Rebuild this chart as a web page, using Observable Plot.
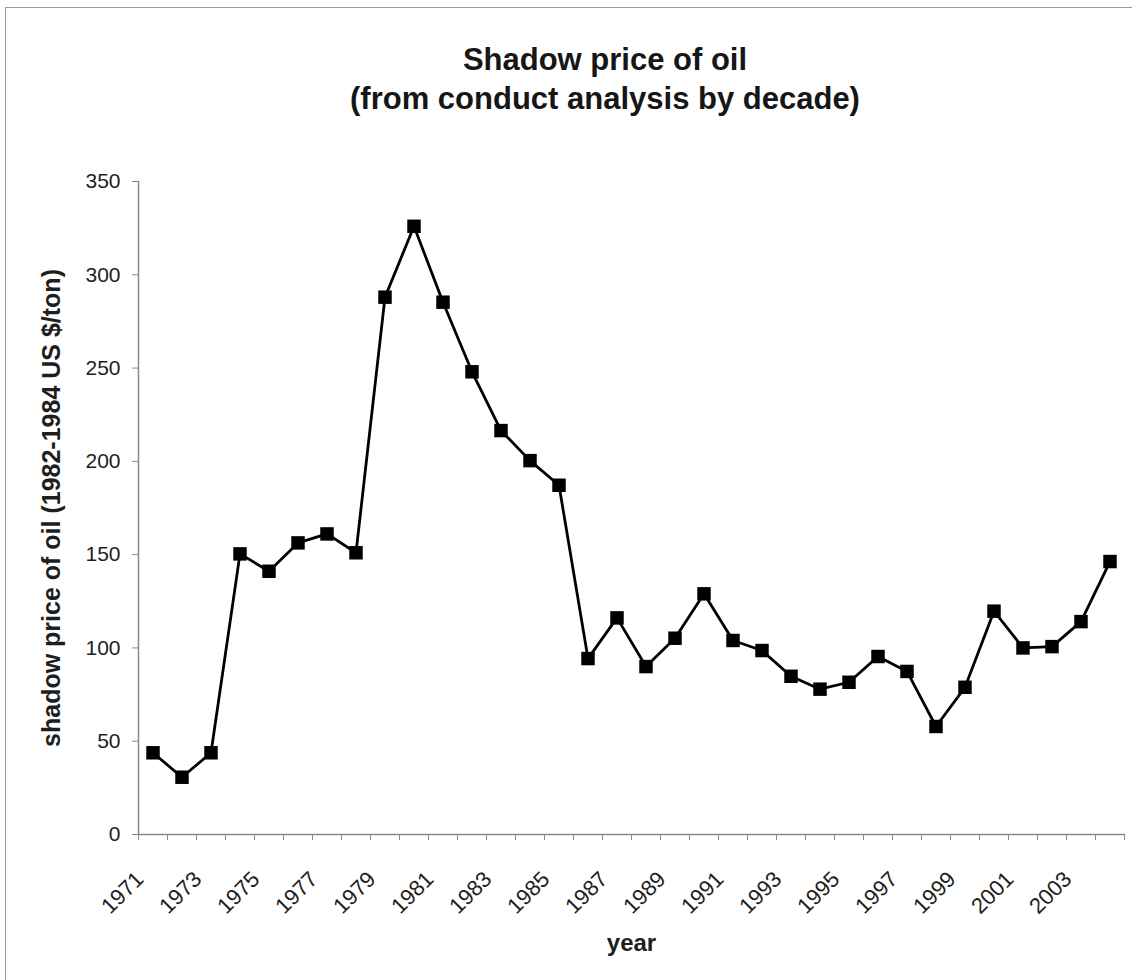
<!DOCTYPE html>
<html>
<head>
<meta charset="utf-8">
<script src="https://cdn.jsdelivr.net/npm/d3@7"></script>
<script src="https://cdn.jsdelivr.net/npm/@observablehq/plot@0.6"></script>
<style>
  body { margin: 0; background: #fff; font-family: "Liberation Sans", Arial, sans-serif; }
  #wrap { position: relative; width: 1132px; height: 980px; overflow: hidden; background: #fff; }
  #border { position: absolute; left: 5px; top: 7px; width: 1150px; height: 1000px; border: 1px solid #9a9a9a; box-sizing: border-box; }
  #title { position: absolute; left: 0; width: 1210px; top: 40px; text-align: center; font-weight: bold; font-size: 31px; line-height: 39px; color: #161616; }
  #chart { position: absolute; left: 0; top: 150px; }
</style>
</head>
<body>
<div id="wrap">
  <div id="border"></div>
  <div id="title"></div>
  <div id="chart"></div>
</div>
<script>
const titleLines = ["Shadow price of oil", "(from conduct analysis by decade)"];
const yTitle = "shadow price of oil (1982-1984 US $/ton)";
const xTitle = "year";

const years = [1971, 1972, 1973, 1974, 1975, 1976, 1977, 1978, 1979, 1980,
               1981, 1982, 1983, 1984, 1985, 1986, 1987, 1988, 1989, 1990,
               1991, 1992, 1993, 1994, 1995, 1996, 1997, 1998, 1999, 2000,
               2001, 2002, 2003, 2004];
const prices = [43.8, 30.7, 43.8, 150.4, 141.1, 156.3, 161.1, 151.0, 288.0, 326.0,
                285.3, 248.0, 216.5, 200.4, 187.2, 94.3, 116.1, 90.0, 105.2, 129.0,
                104.0, 98.6, 84.8, 77.9, 81.6, 95.4, 87.4, 57.9, 78.9, 119.7,
                100.0, 100.7, 114.1, 146.3];
const yearLabels = [1971, 1973, 1975, 1977, 1979, 1981, 1983, 1985, 1987, 1989,
                    1991, 1993, 1995, 1997, 1999, 2001, 2003];
const yTicks = [0, 50, 100, 150, 200, 250, 300, 350];

document.getElementById("title").innerHTML = titleLines.join("<br>");

const data = years.map((year, i) => ({year, price: prices[i]}));
// category boundaries (Excel-style tick marks between categories)
const boundaries = years.map(y => y - 0.5).concat([years[years.length - 1] + 0.5]);

const axisColor = "#8a8a8a";
const textColor = "#1e1e1e";

const chart = Plot.plot({
  width: 1132,
  height: 820,
  marginLeft: 138,
  marginRight: 8,
  marginTop: 31,
  marginBottom: 136,
  style: {
    fontFamily: '"Liberation Sans", Arial, sans-serif',
    fontSize: "21px",
    color: textColor,
    background: "transparent",
    overflow: "visible"
  },
  x: {type: "linear", domain: [boundaries[0], boundaries[boundaries.length - 1]]},
  y: {domain: [0, 350]},
  marks: [
    Plot.frame({anchor: "left", stroke: axisColor, strokeWidth: 1.5}),
    Plot.frame({anchor: "bottom", stroke: axisColor, strokeWidth: 1.5}),
    Plot.axisY({ticks: yTicks, tickSize: 6, tickPadding: 12, stroke: axisColor, fill: textColor, label: null, tickFormat: d => String(d)}),
    Plot.axisX({ticks: boundaries, tickSize: 6, stroke: axisColor, label: null, tickFormat: () => ""}),
    Plot.axisX({ticks: yearLabels, tickSize: 0, tickRotate: -45, tickPadding: 41, dx: -13,
                textAnchor: "end", lineAnchor: "middle", fill: textColor, label: null,
                fontSize: 22, tickFormat: d => String(d)}),
    Plot.text([yTitle], {frameAnchor: "left", rotate: -90, dx: -96, lineAnchor: "top",
                         textAnchor: "middle", fontWeight: "bold", fontSize: 25, fill: textColor}),
    Plot.text([xTitle], {frameAnchor: "bottom", dy: 116, lineAnchor: "bottom",
                         fontWeight: "bold", fontSize: 24, fill: textColor}),
    Plot.line(data, {x: "year", y: "price", stroke: "#000", strokeWidth: 2.8}),
    Plot.dot(data, {x: "year", y: "price", symbol: "square", r: 7.6, fill: "#000", stroke: "none"})
  ]
});
document.getElementById("chart").appendChild(chart);
</script>
</body>
</html>
